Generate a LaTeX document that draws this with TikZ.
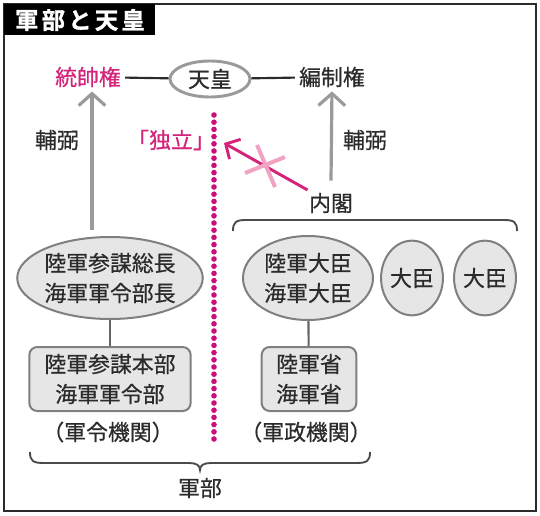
\documentclass[tikz,border=0pt]{standalone}
\usepackage{fontspec}
\setmainfont{Noto Sans CJK JP}[FakeBold=0.6]
\newfontfamily\titlefont[LetterSpace=14,FakeBold=1.2]{Noto Sans CJK JP Bold}
\usetikzlibrary{shapes.geometric}
\usetikzlibrary{arrows.meta}

\definecolor{mag}{HTML}{D4237A}
\definecolor{dotmag}{HTML}{C80F7C}
\definecolor{crosspink}{HTML}{F2A2C2}
\definecolor{hogray}{HTML}{9A9A9A}
\definecolor{edgegray}{HTML}{7F7F7F}
\definecolor{boxfill}{HTML}{E6E6E6}
\definecolor{ink}{HTML}{2B2B2B}

\begin{document}
\begin{tikzpicture}
[x=0.75pt,y=-0.75pt,%
  every node/.style={inner sep=0pt,text=ink,font=\fontsize{16.4}{22.5}\selectfont,align=center},%
  oval/.style={shape=ellipse,draw=edgegray,fill=boxfill,line width=1.5pt},%
  office/.style={shape=rectangle,rounded corners=6pt,draw=edgegray,fill=boxfill,line width=1.5pt},%
  hoarrow/.style={hogray,line width=2.4pt,-{Straight Barb[length=9pt,width=20pt]}},%
  link/.style={ink,line width=1.6pt},%
  bracket/.style={draw=ink!85,line width=1.4pt}]
\useasboundingbox (0,0) rectangle (540,515);
% frame and title
\draw[ink,line width=1.6pt] (4,4) rectangle (536,511);
\fill[black] (4,4) rectangle (155,35);
\node[text=white,font=\titlefont\fontsize{17.5}{17.5}\selectfont] (title) at (80,20) {軍部と天皇};
% top row
\node[shape=ellipse,draw=hogray,fill=white,line width=2.2pt,minimum width=60pt,minimum height=27pt] (tenno) at (210,79) {天皇};
\node[text=mag] (tosui) at (88,77) {統帥権};
\node (hensei) at (332,77) {編制権};
\draw[link,shorten <=3pt] (tosui) -- (tenno);
\draw[link,shorten >=3pt] (tenno) -- (hensei);
% independence line
\coordinate (dottop) at (214,115);
\coordinate (dotbot) at (214,445);
\draw[dotmag,line width=4.2pt,line cap=round,dash pattern=on 0pt off 5.4pt] (dottop) -- (dotbot);
\node[text=mag] (dokuritsu) at (171,140) {「独立」};
% cabinet
\node (naikaku) at (331,203) {内閣};
\node (hohitsu1) at (57,140) {輔弼};
\node (hohitsu2) at (365,140) {輔弼};
\coordinate (hb1) at (92,230);
\draw[hoarrow,shorten >=3pt] (hb1) -- (hb1 |- tosui.south);
\draw[hoarrow,shorten >=3pt] ([yshift=9pt]naikaku.north) -- (hensei.south);
\coordinate (indep) at (224,143);
\draw[mag,line width=2.2pt,-{Straight Barb[length=8pt,width=17pt]}] ([xshift=-1pt,yshift=2pt]naikaku.north west) -- (indep);
\draw[crosspink,line width=3pt] (245,173) -- (285,157);
\draw[crosspink,line width=3pt] (257,145) -- (275,187);
% ministers
\node[oval,minimum width=130.5pt,minimum height=61.5pt] (sanbo) at (110,278) {陸軍参謀総長\\海軍軍令部長};
\node[oval,minimum width=97.5pt,minimum height=63pt] (daijin) at (308,278) {陸軍大臣\\海軍大臣};
\node[oval,minimum width=46pt,minimum height=56pt] (daijin2) at (412,278) {大臣};
\node[oval,minimum width=46pt,minimum height=56pt] (daijin3) at (485,278) {大臣};
\node[office,minimum width=121pt,minimum height=48pt] (honbu) at (110,379) {陸軍参謀本部\\海軍軍令部};
\node[office,minimum width=71pt,minimum height=48pt] (sho) at (309,379) {陸軍省\\海軍省};
\draw[edgegray!80!black,line width=1.6pt] (sanbo) -- (honbu);
\draw[edgegray!80!black,line width=1.6pt] (daijin) -- (sho);
\node (gunrei) at (108,432) {（軍令機関）};
\node (gunsei) at (306,432) {（軍政機関）};
% brackets
\draw[bracket] (233,231) .. controls (233,222) and (236,220) .. (246,220) -- (504,220) .. controls (514,220) and (517,222) .. (517,231);
\draw[bracket] (30,452) .. controls (30,461) and (33,463) .. (44,463) -- (189,463) .. controls (196,463) and (200,465) .. (200,470) .. controls (200,465) and (204,463) .. (211,463) -- (356,463) .. controls (367,463) and (370,461) .. (370,452);
\node (gunbu) at (200,488) {軍部};
\end{tikzpicture}
\end{document}
